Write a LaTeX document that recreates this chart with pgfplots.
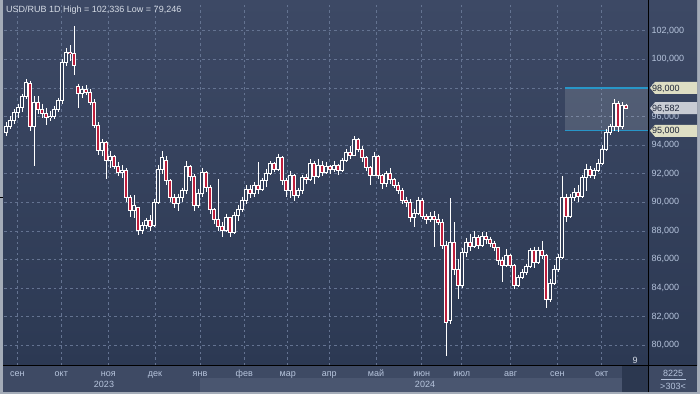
\documentclass[border=0pt]{standalone}
\usepackage{pgfplots}
\pgfplotsset{compat=1.18}
\usepackage{pgfplotstable}
\usepackage{fontspec}
\setmainfont{Liberation Sans}
\definecolor{bgtop}{RGB}{61,73,101}
\definecolor{bgbot}{RGB}{44,57,83}
\definecolor{framec}{RGB}{164,172,184}
\definecolor{rowc}{RGB}{62,74,100}
\definecolor{rowc2}{RGB}{74,86,112}
\definecolor{darkbox}{RGB}{44,56,80}
\definecolor{gridc}{RGB}{100,115,145}
\definecolor{tickc}{RGB}{182,196,220}
\definecolor{titlec}{RGB}{214,220,230}
\definecolor{candred}{RGB}{190,30,60}
\definecolor{candin}{RGB}{50,62,88}
\definecolor{zoneline}{RGB}{40,150,200}
\definecolor{tagy}{RGB}{222,222,196}
\definecolor{tagg}{RGB}{200,204,212}
\definecolor{tagtext}{RGB}{28,36,56}
\pgfplotstableread{
x o h l c
6 94.9 95.6 94.6 95.3
10 95.3 96.0 95.1 95.7
14 95.7 96.5 95.5 96.3
18 96.3 96.9 95.9 96.6
22 96.6 97.6 96.3 97.4
26 97.4 98.6 97.2 98.4
30 98.3 98.5 95.0 95.3
34 95.3 97.4 92.5 97.0
38 97.0 97.4 96.2 96.5
42 96.5 96.9 95.9 96.2
46 96.2 96.6 95.4 95.9
50 95.9 96.4 95.7 96.0
54 96.0 96.7 95.8 96.5
58 96.5 97.3 96.3 97.1
62 97.1 100.0 96.9 99.8
66 99.8 100.8 99.5 100.5
70 100.5 101.0 99.9 100.4
74 100.4 102.34 98.9 99.6
78 98.1 98.3 96.6 97.6
82 97.6 98.1 97.3 97.9
86 97.9 98.2 97.5 97.7
90 97.7 97.9 96.8 97.0
94 97.0 97.2 95.2 95.4
98 95.4 95.6 93.3 93.6
102 93.6 94.4 93.2 94.2
106 94.2 94.3 91.6 92.9
110 92.9 93.6 92.4 93.2
114 93.2 93.3 92.3 92.5
118 92.5 92.8 91.8 92.1
122 92.1 92.6 91.7 92.2
126 92.2 92.4 90.0 90.3
130 90.3 90.5 89.0 89.4
134 89.4 90.5 88.9 89.8
138 89.6 89.7 87.7 88.0
142 88.0 88.6 87.8 88.4
146 88.4 88.9 88.1 88.7
150 88.7 89.1 88.0 88.3
154 88.4 90.2 88.3 90.0
158 90.0 92.6 89.9 92.3
162 92.3 93.6 92.0 93.1
166 92.9 93.2 91.2 91.5
170 91.5 91.6 90.0 90.3
174 90.3 90.6 89.6 89.9
178 89.9 90.6 89.4 90.3
182 90.3 91.0 90.0 90.8
186 90.8 92.9 90.6 92.5
190 92.5 92.6 91.5 91.8
194 91.8 92.0 89.4 89.8
198 89.8 90.9 89.6 90.6
202 90.6 92.4 90.4 92.1
206 92.1 92.2 90.7 91.0
210 91.0 91.2 89.2 89.5
214 89.5 89.6 88.5 88.8
218 88.8 91.6 88.0 88.3
222 88.3 88.6 87.6 88.0
226 88.0 89.2 87.9 88.9
230 88.9 89.0 87.6 87.9
234 87.9 89.3 87.8 89.1
238 89.1 89.8 88.7 89.5
242 89.5 90.4 89.3 90.1
246 90.1 91.2 89.9 90.9
250 90.9 91.2 90.3 90.6
254 90.6 91.4 90.4 91.2
258 91.2 92.8 90.6 90.9
262 90.9 91.7 90.8 91.5
266 91.5 92.3 91.1 92.0
270 92.0 92.9 91.9 92.7
274 92.7 92.8 92.1 92.3
278 92.3 93.4 92.2 93.1
282 93.1 93.2 91.2 91.5
286 91.5 91.7 90.4 90.8
290 90.8 92.2 90.3 91.9
294 91.9 92.0 90.1 90.5
298 90.5 91.0 90.3 90.8
302 90.8 91.9 90.6 91.7
306 91.7 92.0 91.3 91.6
310 91.6 93.0 91.5 92.7
314 92.7 92.9 91.3 91.8
318 91.8 93.0 91.7 92.6
322 92.6 92.9 91.8 92.1
326 92.1 92.8 92.0 92.5
330 92.5 92.6 92.0 92.3
334 92.3 92.9 92.1 92.6
338 92.6 92.7 91.9 92.2
342 92.2 93.1 92.1 92.9
346 92.9 93.7 92.8 93.5
350 93.5 93.9 93.0 93.3
354 93.3 94.6 93.2 94.4
358 94.4 94.5 93.5 93.7
362 93.7 93.9 92.8 93.1
366 93.1 93.2 92.2 92.4
370 92.4 92.5 91.2 91.9
374 91.9 93.5 91.8 93.2
378 93.2 93.3 91.6 91.9
382 91.9 92.0 90.9 91.3
386 91.3 92.2 91.1 92.0
390 92.0 92.4 91.3 91.6
394 91.6 91.7 91.0 91.2
398 91.2 91.4 90.6 90.8
402 90.8 91.0 89.9 90.1
406 90.1 90.4 89.7 90.0
410 90.0 90.2 88.6 88.9
414 88.9 89.5 88.3 89.2
418 89.2 90.4 89.1 90.1
422 90.1 90.3 88.8 89.0
426 89.0 89.2 88.5 88.8
430 88.8 89.3 88.6 89.0
434 89.0 89.4 86.9 88.8
438 88.8 89.2 88.4 88.6
442 88.6 88.8 86.7 87.0
446 87.0 87.3 79.246 81.6
450 81.7 90.3 81.5 87.2
454 87.2 88.6 84.9 85.3
458 85.3 86.0 83.2 84.2
462 84.2 86.8 84.0 86.5
466 86.5 87.5 86.2 87.2
470 87.2 87.8 86.6 86.9
474 86.9 88.0 86.8 87.5
478 87.5 87.7 86.7 87.0
482 87.0 87.9 86.9 87.6
486 87.6 87.9 87.1 87.4
490 87.4 87.6 86.9 87.1
494 87.1 87.3 86.6 86.8
498 86.8 86.9 85.6 85.9
502 85.9 86.2 84.4 85.6
506 85.6 86.7 85.5 86.3
510 86.3 86.4 85.4 85.6
514 85.6 85.7 83.9 84.2
518 84.2 84.9 84.1 84.7
522 84.7 85.3 84.6 85.1
526 85.1 85.7 84.9 85.5
530 85.5 86.8 85.4 86.6
534 86.6 86.9 85.4 85.8
538 85.8 86.9 85.7 86.6
542 86.6 87.3 86.0 86.3
546 86.3 86.4 82.6 83.2
550 83.2 84.6 83.0 84.3
554 84.3 85.6 84.2 85.3
558 85.3 86.4 85.1 86.1
562 86.1 91.8 86.0 90.3
566 90.3 90.6 88.6 89.0
570 89.0 90.6 88.9 90.3
574 90.3 91.0 90.1 90.7
578 90.7 91.2 90.0 90.4
582 90.4 91.9 90.3 91.7
586 91.7 92.7 90.8 92.3
590 92.3 92.5 91.7 91.9
594 91.9 92.4 91.6 92.2
598 92.2 93.0 92.1 92.7
602 92.7 94.0 92.6 93.7
606 93.7 95.1 93.6 94.9
610 94.9 95.5 94.7 95.3
614 95.3 97.2 95.0 96.9
618 96.9 97.1 94.9 95.3
622 95.3 97.0 95.1 96.8
626 96.8 96.9 96.5 96.58
}\candles
\begin{document}
\begin{tikzpicture}[x=1pt,y=1pt]
\useasboundingbox (0,0) rectangle (700,394);
\fill[framec] (0,0) rectangle (700,394);
\shade[top color=bgtop, bottom color=bgbot] (3,29) rectangle (697,394);
\fill[rowc] (3,2) rectangle (697,29);
\fill[rowc2] (200,2) rectangle (622,16);
\fill[darkbox] (622,2) rectangle (647.5,28.5);
\begin{axis}[
  at={(4pt,29pt)}, anchor=south west,
  scale only axis, width=644pt, height=362pt,
  xmin=4, xmax=648, ymin=78.61, ymax=103.94,
  enlargelimits=false,
  axis line style={draw=none},
  major tick length=0pt,
  clip mode=individual,
  grid=major,
  major grid style={gridc, line width=0.6pt, dash pattern=on 2.5pt off 3pt},
  xtick={17.3,61.3,108.3,155,200,244.3,287.7,329.3,376,421.7,461.7,510.7,557.3,601.7},
  xticklabels={сен,окт,ноя,дек,янв,фев,мар,апр,май,июн,июл,авг,сен,окт},
  xticklabel style={font=\fontsize{9}{10}\selectfont, text=tickc, anchor=base, yshift=-11.5pt},
  ytick={80,82,84,86,88,90,92,94,96,98,100,102},
  yticklabels={{80,000},{82,000},{84,000},{86,000},{88,000},{90,000},{92,000},{94,000},{96,000},{98,000},{100,000},{102,000}},
  yticklabel pos=right,
  yticklabel style={font=\fontsize{9}{10}\selectfont, text=tickc, anchor=west},
]
% zone
\addplot[draw=none, fill=white, fill opacity=0.13, forget plot] coordinates {(565,95) (648,95) (648,98) (565,98) (565,95)};
\addplot[zoneline, line width=1.3pt, forget plot] coordinates {(565,98) (648,98)};
\addplot[zoneline, line width=1.3pt, forget plot] coordinates {(565,95) (648,95)};
% wicks
\addplot[draw=none, mark=none, forget plot,
  error bars/.cd, y dir=minus, y explicit, error mark=none,
  error bar style={draw=white, line width=0.9pt}]
  table[x=x, y=h, y error minus expr={\thisrow{h}-\thisrow{l}}] {\candles};
% bodies outline
\addplot[draw=none, mark=none, forget plot,
  error bars/.cd, y dir=minus, y explicit, error mark=none,
  error bar style={draw=white, line width=3.2pt}]
  table[x=x, y expr={max(\thisrow{o},\thisrow{c})+0.035}, y error minus expr={abs(\thisrow{o}-\thisrow{c})+0.07}] {\candles};
% down bodies inner
\addplot[draw=none, mark=none, forget plot,
  restrict expr to domain={\thisrow{c}-\thisrow{o}}{-100:-0.05},
  error bars/.cd, y dir=minus, y explicit, error mark=none,
  error bar style={draw=candred, line width=1.2pt}]
  table[x=x, y expr={max(\thisrow{o},\thisrow{c})-0.035}, y error minus expr={abs(\thisrow{o}-\thisrow{c})-0.07}] {\candles};
% up bodies inner
\addplot[draw=none, mark=none, forget plot,
  restrict expr to domain={\thisrow{c}-\thisrow{o}}{0.05:100},
  error bars/.cd, y dir=minus, y explicit, error mark=none,
  error bar style={draw=candin, line width=1.2pt}]
  table[x=x, y expr={max(\thisrow{o},\thisrow{c})-0.035}, y error minus expr={abs(\thisrow{o}-\thisrow{c})-0.07}] {\candles};
\coordinate (t98) at (axis cs:648,98);
\coordinate (t96) at (axis cs:648,96.582);
\coordinate (t95) at (axis cs:648,95);
\end{axis}
% lines
\draw[black, line width=1pt] (3,29) -- (697,29);
\draw[black, line width=1pt] (648,2) -- (648,394);
\draw[black, line width=0.6pt] (0,197) -- (3,197);
% tags
\foreach \t/\c/\txt in {t98/tagy/{98,000}, t96/tagg/{96,582}, t95/tagy/{95,000}}{
  \fill[\c] ([xshift=2pt]\t) -- ([xshift=7pt,yshift=6pt]\t) -- ([xshift=49pt,yshift=6pt]\t) -- ([xshift=49pt,yshift=-6pt]\t) -- ([xshift=7pt,yshift=-6pt]\t) -- cycle;
  \node[anchor=base west, inner sep=0pt, text=tagtext, font=\fontsize{9}{10}\selectfont] at ([xshift=4pt,yshift=-3.2pt]\t) {\txt};
}
% texts
\node[anchor=base west, inner sep=0pt, text=titlec, font=\fontsize{9}{10}\selectfont] at (6,381.7) {USD/RUB 1D High = 102,336 Low = 79,246};
\node[anchor=base, inner sep=0pt, text=tickc, font=\fontsize{9}{10}\selectfont] at (104,6.5) {2023};
\node[anchor=base, inner sep=0pt, text=tickc, font=\fontsize{9}{10}\selectfont] at (425,6.5) {2024};
\node[anchor=base, inner sep=0pt, text=titlec, font=\fontsize{9}{10}\selectfont] at (635,31) {9};
\node[anchor=base, inner sep=0pt, text=tickc, font=\fontsize{9}{10}\selectfont] at (673,18) {8225};
\draw[tickc, line width=0.5pt] (661,14.7) -- (686,14.7);
\node[anchor=base, inner sep=0pt, text=tickc, font=\fontsize{9}{10}\selectfont] at (673,5) {>303<};
\end{tikzpicture}
\end{document}
